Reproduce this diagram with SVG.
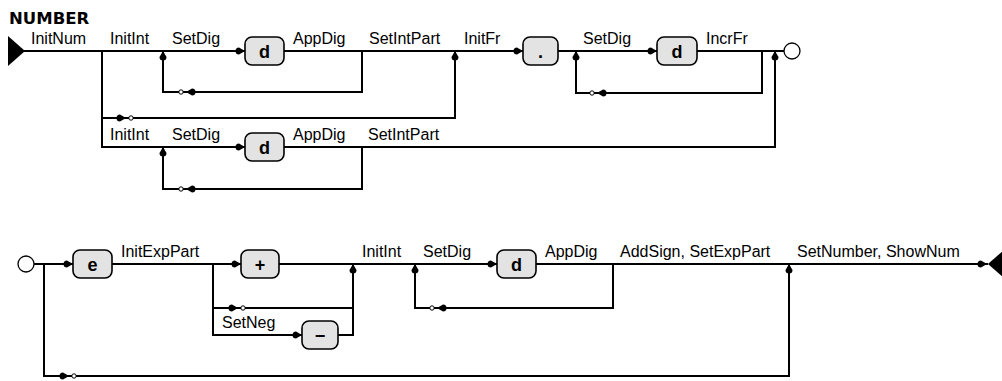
<svg xmlns="http://www.w3.org/2000/svg" xmlns:xlink="http://www.w3.org/1999/xlink" width="1002" height="381" viewBox="0 0 1002 381">
<style>
.ln{fill:none;stroke:#000;stroke-width:2}
.box{fill:#e3e3e3;stroke:#000;stroke-width:1.6}
.lbl{font-family:"Liberation Sans",Arial,sans-serif;font-size:16px;fill:#000}
.sym{font-family:"Liberation Sans",Arial,sans-serif;font-size:18px;font-weight:bold;fill:#000;text-anchor:middle}
.title{font-family:"DejaVu Sans",sans-serif;font-size:16.5px;font-weight:bold;fill:#000}
.oc{fill:#fff;stroke:#000;stroke-width:1}
.term{fill:#fff;stroke:#000;stroke-width:1.3}
</style>
<defs>
<path id="tear" d="M0,0 L-6,-3.5 A3.5,3.5 0 0 0 -6,3.5 Z" fill="#000"/>
</defs>
<rect width="1002" height="381" fill="#fff"/>
<text class="title" x="9" y="24">NUMBER</text>

<g id="connectors">
<path class="ln" d="M24,51 H245 M284,51 H523 M558,51 H657 M697,51 H784"/>
<path class="ln" d="M163,51 V92 H362 V51"/>
<path class="ln" d="M102,51 V147 H245 M284,147 H775 V51"/>
<path class="ln" d="M102,118 H455 V51"/>
<path class="ln" d="M576,51 V93 H762 V51"/>
<path class="ln" d="M163,147 V189 H362 V147"/>
<use xlink:href="#tear" transform="translate(245,51)"/>
<use xlink:href="#tear" transform="translate(523,51)"/>
<use xlink:href="#tear" transform="translate(657,51)"/>
<use xlink:href="#tear" transform="translate(245,147)"/>
<use xlink:href="#tear" transform="translate(163,51) rotate(-90)"/>
<use xlink:href="#tear" transform="translate(455,51) rotate(-90)"/>
<use xlink:href="#tear" transform="translate(576,51) rotate(-90)"/>
<use xlink:href="#tear" transform="translate(775,51) rotate(-90)"/>
<use xlink:href="#tear" transform="translate(163,147) rotate(-90)"/>
<use xlink:href="#tear" transform="translate(186,92) rotate(180)"/>
<circle class="oc" cx="181" cy="92" r="2.2"/>
<use xlink:href="#tear" transform="translate(597,93) rotate(180)"/>
<circle class="oc" cx="592" cy="93" r="2.2"/>
<use xlink:href="#tear" transform="translate(186,189) rotate(180)"/>
<circle class="oc" cx="181" cy="189" r="2.2"/>
<use xlink:href="#tear" transform="translate(126,118)"/>
<circle class="oc" cx="131" cy="118" r="2.2"/>
<path class="ln" d="M34,264 H73 M112,264 H241 M279,264 H497 M536,264 H988"/>
<path class="ln" d="M44,264 V376 H789 V264"/>
<path class="ln" d="M213,264 V335 H302 M338,335 H353 V264"/>
<path class="ln" d="M213,308 H353"/>
<path class="ln" d="M415,264 V308 H613 V264"/>
<use xlink:href="#tear" transform="translate(73,264)"/>
<use xlink:href="#tear" transform="translate(241,264)"/>
<use xlink:href="#tear" transform="translate(302,335)"/>
<use xlink:href="#tear" transform="translate(497,264)"/>
<use xlink:href="#tear" transform="translate(987,264)"/>
<use xlink:href="#tear" transform="translate(353,264) rotate(-90)"/>
<use xlink:href="#tear" transform="translate(415,264) rotate(-90)"/>
<use xlink:href="#tear" transform="translate(789,264) rotate(-90)"/>
<use xlink:href="#tear" transform="translate(69,376)"/>
<circle class="oc" cx="74" cy="376" r="2.2"/>
<use xlink:href="#tear" transform="translate(238,308)"/>
<circle class="oc" cx="243" cy="308" r="2.2"/>
<use xlink:href="#tear" transform="translate(437,308) rotate(180)"/>
<circle class="oc" cx="432" cy="308" r="2.2"/>
</g>

<g id="labels">
<text class="lbl" x="31" y="44">InitNum</text>
<text class="lbl" x="110" y="44">InitInt</text>
<text class="lbl" x="172" y="44">SetDig</text>
<text class="lbl" x="293" y="44">AppDig</text>
<text class="lbl" x="369" y="44">SetIntPart</text>
<text class="lbl" x="464" y="44">InitFr</text>
<text class="lbl" x="583" y="44">SetDig</text>
<text class="lbl" x="706" y="44">IncrFr</text>
<text class="lbl" x="110" y="140">InitInt</text>
<text class="lbl" x="172" y="140">SetDig</text>
<text class="lbl" x="293" y="140">AppDig</text>
<text class="lbl" x="368" y="140">SetIntPart</text>
<text class="lbl" x="121" y="257">InitExpPart</text>
<text class="lbl" x="222" y="328">SetNeg</text>
<text class="lbl" x="362" y="257">InitInt</text>
<text class="lbl" x="423" y="257">SetDig</text>
<text class="lbl" x="545" y="257">AppDig</text>
<text class="lbl" x="620" y="257">AddSign, SetExpPart</text>
<text class="lbl" x="797" y="257">SetNumber, ShowNum</text>
</g>

<g id="start1"><polygon points="8,36 8,66 25,51" fill="#000"/></g>
<g id="end1"><circle class="term" cx="792" cy="51" r="8"/></g>
<g id="start2"><circle class="term" cx="26" cy="264" r="8"/></g>
<g id="end2"><polygon points="988,264 1005,249 1005,279" fill="#000"/></g>

<g id="d1"><rect class="box" x="245" y="37" width="39" height="28" rx="7"/><text class="sym" x="264.5" y="57.5">d</text></g>
<g id="dot"><rect class="box" x="523" y="37" width="35" height="28" rx="7"/><text class="sym" x="540.5" y="57.5">.</text></g>
<g id="d2"><rect class="box" x="657" y="37" width="40" height="28" rx="7"/><text class="sym" x="677" y="57.5">d</text></g>
<g id="d3"><rect class="box" x="245" y="133" width="39" height="28" rx="7"/><text class="sym" x="264.5" y="153.5">d</text></g>
<g id="e"><rect class="box" x="73" y="250" width="39" height="28" rx="7"/><text class="sym" x="92.5" y="270.5">e</text></g>
<g id="plus"><rect class="box" x="241" y="250" width="38" height="28" rx="7"/><text class="sym" x="260" y="270.5">+</text></g>
<g id="minus"><rect class="box" x="302" y="321" width="36" height="28" rx="7"/><text class="sym" x="320" y="341.5">−</text></g>
<g id="d4"><rect class="box" x="497" y="250" width="39" height="28" rx="7"/><text class="sym" x="516.5" y="270.5">d</text></g>
</svg>
